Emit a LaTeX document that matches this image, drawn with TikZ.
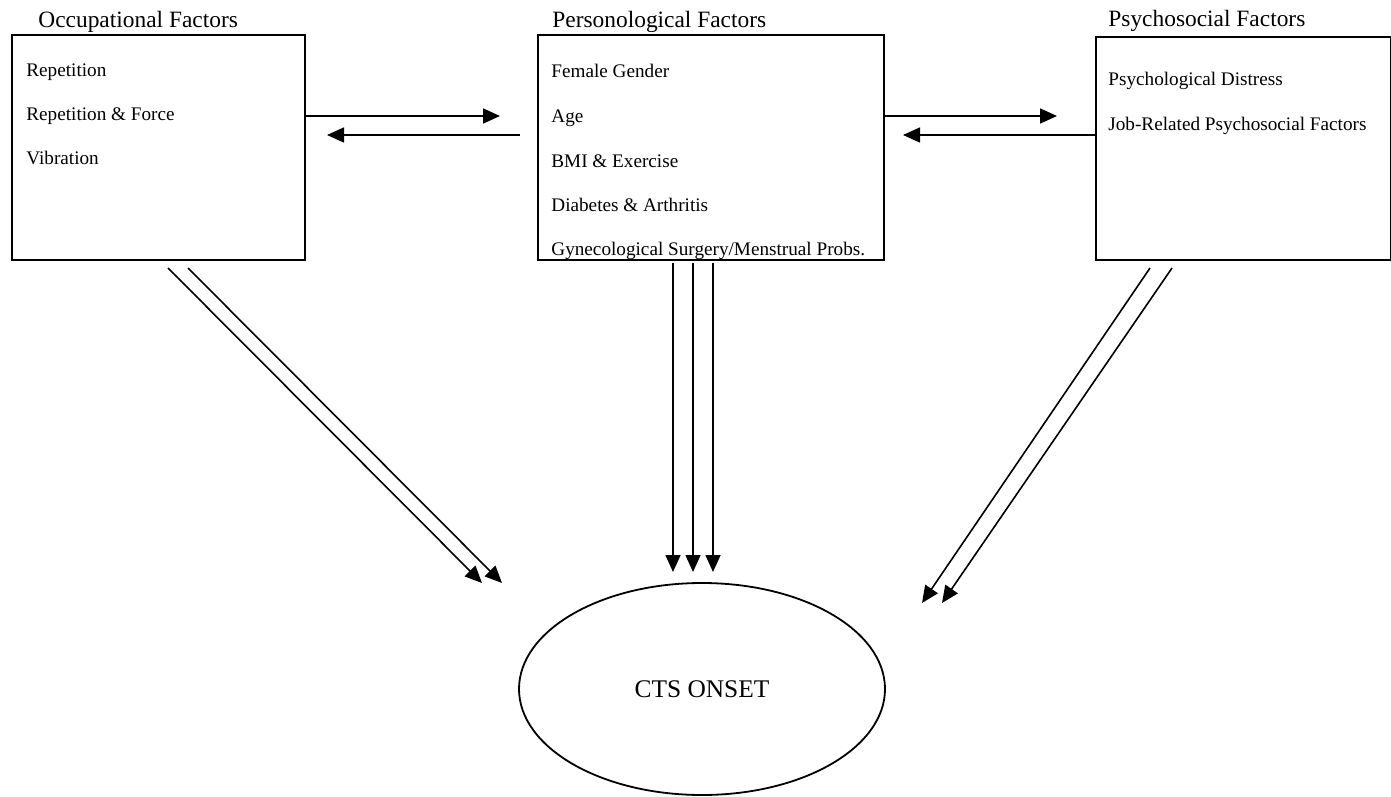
\documentclass[tikz,border=0pt]{standalone}
\usepackage{fontspec}
\setmainfont{Liberation Serif}
\usetikzlibrary{arrows.meta,shapes.geometric}
\begin{document}
\begin{tikzpicture}[x=0.5pt,y=-0.5pt,
  box/.style={draw, line width=0.9pt, rectangle, inner sep=0pt},
  ttl/.style={anchor=base west, font=\fontsize{11.7}{14}\selectfont, inner sep=0pt},
  itm/.style={anchor=base west, font=\fontsize{9.6}{12}\selectfont, inner sep=0pt},
  arr/.style={line width=0.8pt, -{Triangle[length=8.5pt,width=7.5pt]}},
]
\useasboundingbox (0,0) rectangle (1391,797);
% boxes
\node[box, minimum width=146.5pt, minimum height=112.5pt] (occ) at (158.5,147.5) {};
\node[box, minimum width=173pt, minimum height=112.5pt] (per) at (711,147.5) {};
\node[box, minimum width=147.5pt, minimum height=111.5pt] (psy) at (1243.5,148.5) {};
% titles
\node[ttl] (tocc) at (38,28) {Occupational Factors};
\node[ttl] (tper) at (552,28) {Personological Factors};
\node[ttl] (tpsy) at (1108,27) {Psychosocial Factors};
% items
\node[itm] (o1) at (26,76) {Repetition};
\node[itm] (o2) at (26,120) {Repetition \& Force};
\node[itm] (o3) at (26,164) {Vibration};
\node[itm] (p1) at (551,78) {Female Gender};
\node[itm] (p2) at (551,122) {Age};
\node[itm] (p3) at (551,167) {BMI \& Exercise};
\node[itm] (p4) at (551,211) {Diabetes \& Arthritis};
\node[itm] (p5) at (551,255) {Gynecological Surgery/Menstrual Probs.};
\node[itm] (s1) at (1108,86) {Psychological Distress};
\node[itm] (s2) at (1108,131) {Job-Related Psychosocial Factors};
% outcome
\node[draw, ellipse, line width=0.9pt, minimum width=183pt, minimum height=106pt,
      font=\fontsize{12.7}{15}\selectfont] (cts) at (702,689) {CTS ONSET};
% connector end points
\coordinate (e1) at (500,116);
\coordinate (b1) at (520,135);
\coordinate (e2) at (327,135);
\coordinate (e3) at (1057,116);
\coordinate (e4) at (903,135);
\coordinate (d1s) at (168,268); \coordinate (d1e) at (482,583);
\coordinate (d2s) at (188,268); \coordinate (d2e) at (502,583);
\coordinate (v1s) at (673,263); \coordinate (v1e) at (673,572);
\coordinate (v2s) at (693,263); \coordinate (v2e) at (693,572);
\coordinate (v3s) at (713,263); \coordinate (v3e) at (713,572);
\coordinate (r1s) at (1150,268); \coordinate (r1e) at (922,603);
\coordinate (r2s) at (1172,268); \coordinate (r2e) at (942,603);
% connectors
\draw[arr] (occ.east |- e1) -- (e1);
\draw[arr] (b1) -- (e2);
\draw[arr] (per.east |- e3) -- (e3);
\draw[arr] (psy.west |- e4) -- (e4);
\draw[arr] (d1s) -- (d1e);
\draw[arr] (d2s) -- (d2e);
\draw[arr] (v1s) -- (v1e);
\draw[arr] (v2s) -- (v2e);
\draw[arr] (v3s) -- (v3e);
\draw[arr] (r1s) -- (r1e);
\draw[arr] (r2s) -- (r2e);
\end{tikzpicture}
\end{document}
